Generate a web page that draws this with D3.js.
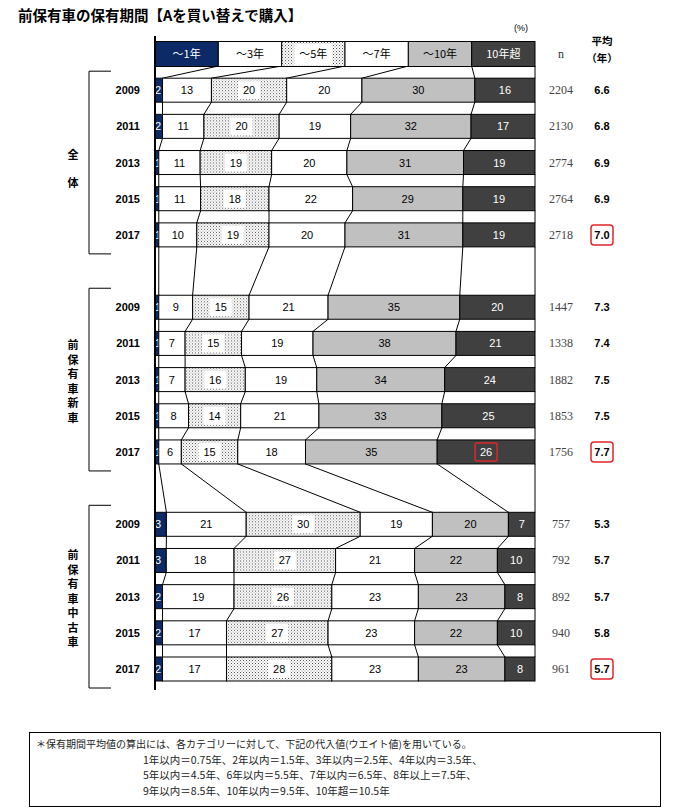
<!DOCTYPE html>
<html>
<head>
<meta charset="utf-8">
<script src="https://cdn.jsdelivr.net/npm/d3@7"></script>
<style>
  body { margin: 0; background: #fff; }
  svg text { font-family: "Liberation Sans", Arial, sans-serif; }
</style>
</head>
<body>
<div id="app"></div>
<script>
const categories = ['～1年', '～3年', '～5年', '～7年', '～10年', '10年超'];
const years = ['2009', '2011', '2013', '2015', '2017'];
const groupNames = ['全体', '前保有車新車', '前保有車中古車'];

const allValues = [
  [2, 13, 20, 20, 30, 16],
  [2, 11, 20, 19, 32, 17],
  [1, 11, 19, 20, 31, 19],
  [1, 11, 18, 22, 29, 19],
  [1, 10, 19, 20, 31, 19],
];
const newValues = [
  [1, 9, 15, 21, 35, 20],
  [1, 7, 15, 19, 38, 21],
  [1, 7, 16, 19, 34, 24],
  [1, 8, 14, 21, 33, 25],
  [1, 6, 15, 18, 35, 26],
];
const usedValues = [
  [3, 21, 30, 19, 20, 7],
  [3, 18, 27, 21, 22, 10],
  [2, 19, 26, 23, 23, 8],
  [2, 17, 27, 23, 22, 10],
  [2, 17, 28, 23, 23, 8],
];
const allN = [2204, 2130, 2774, 2764, 2718];
const newN = [1447, 1338, 1882, 1853, 1756];
const usedN = [757, 792, 892, 940, 961];
const allAvg = ['6.6', '6.8', '6.9', '6.9', '7.0'];
const newAvg = ['7.3', '7.4', '7.5', '7.5', '7.7'];
const usedAvg = ['5.3', '5.7', '5.7', '5.8', '5.7'];

const footnote = [
  '＊保有期間平均値の算出には、各カテゴリーに対して、下記の代入値(ウエイト値)を用いている。',
  '1年以内＝0.75年、2年以内＝1.5年、3年以内＝2.5年、4年以内＝3.5年、',
  '5年以内＝4.5年、6年以内＝5.5年、7年以内＝6.5年、8年以上＝7.5年、',
  '9年以内＝8.5年、10年以内＝9.5年、10年超＝10.5年',
];

const fills = ['#0c2a66', '#ffffff', 'url(#dots)', '#ffffff', '#c0c0c0', '#404040'];
const textFills = ['#fff', '#000', '#000', '#000', '#000', '#fff'];

const groups = [
  { name: groupNames[0], values: allValues, n: allN, avg: allAvg, start: 1 },
  { name: groupNames[1], values: newValues, n: newN, avg: newAvg, start: 7 },
  { name: groupNames[2], values: usedValues, n: usedN, avg: usedAvg, start: 13 },
];

const width = 683;
const height = 811;
const barH = 24;

const svg = d3.select('#app').append('svg')
  .attr('width', width)
  .attr('height', height);

const defs = svg.append('defs');
const pat = defs.append('pattern')
  .attr('id', 'dots')
  .attr('patternUnits', 'userSpaceOnUse')
  .attr('width', 3).attr('height', 3);
pat.append('rect').attr('width', 3).attr('height', 3).attr('fill', '#fff');
pat.append('rect').attr('width', 1).attr('height', 1).attr('fill', '#555');
pat.append('rect').attr('x', 1.5).attr('y', 1.5).attr('width', 1).attr('height', 1).attr('fill', '#888');

const x = d3.scaleLinear().domain([0, 100]).range([155, 535]);
const y = d3.scaleLinear().domain([0, 17]).range([54, 669]);

// rows: header + 15 data rows, each with cumulative boundaries
const headerBounds = d3.range(7).map(k => k * 100 / 6);
const rows = [];
groups.forEach(g => {
  g.values.forEach((v, i) => {
    const total = d3.sum(v);
    const cum = [0, ...d3.cumsum(v).map(c => c / total * 100)];
    rows.push({ group: g, year: years[i], values: v, bounds: cum, slot: g.start + i, n: g.n[i], avg: g.avg[i], last: i === 4 });
  });
});

// title
svg.append('text')
  .attr('x', 18).attr('y', 21)
  .style('font-family', '"Noto Sans CJK JP", sans-serif')
  .style('font-size', '14.5px').style('font-weight', 'bold')
  .text('前保有車の保有期間【Aを買い替えで購入】');

svg.append('text')
  .attr('x', 521).attr('y', 31)
  .attr('text-anchor', 'middle')
  .style('font-size', '9px')
  .text('(%)');

// connectors
const chain = [{ bounds: headerBounds, slot: 0 }, ...rows];
const links = [];
for (let i = 1; i < chain.length; i++) {
  const a = chain[i - 1], b = chain[i];
  headerBounds.forEach((_, k) => links.push({ x1: x(a.bounds[k]), y1: y(a.slot) + barH / 2, x2: x(b.bounds[k]), y2: y(b.slot) - barH / 2 }));
}
svg.append('g').selectAll('line').data(links).join('line')
  .attr('x1', d => d.x1).attr('y1', d => d.y1)
  .attr('x2', d => d.x2).attr('y2', d => d.y2)
  .attr('stroke', '#000').attr('stroke-width', 1);

// header legend boxes
const header = svg.append('g');
categories.forEach((c, k) => {
  const x0 = x(headerBounds[k]), x1 = x(headerBounds[k + 1]);
  header.append('rect')
    .attr('x', x0).attr('y', y(0) - barH / 2 - 0.5)
    .attr('width', x1 - x0).attr('height', barH + 1)
    .attr('fill', fills[k]).attr('stroke', '#000');
  if (k === 2) {
    header.append('rect')
      .attr('x', (x0 + x1) / 2 - 19).attr('y', y(0) - barH / 2 + 2)
      .attr('width', 38).attr('height', barH - 3)
      .attr('fill', '#fff');
  }
  header.append('text')
    .attr('x', (x0 + x1) / 2).attr('y', y(0) + 4)
    .attr('text-anchor', 'middle')
    .attr('fill', textFills[k])
    .style('font-family', '"Noto Sans CJK JP", sans-serif')
    .style('font-size', '11px')
    .text(c);
});

svg.append('text')
  .attr('x', 561).attr('y', 58).attr('text-anchor', 'middle')
  .style('font-family', '"Liberation Serif", serif').style('font-size', '12px').attr('fill', '#333')
  .text('n');
svg.append('text')
  .attr('x', 602).attr('y', 45).attr('text-anchor', 'middle')
  .style('font-family', '"Noto Sans CJK JP", sans-serif').style('font-size', '10.5px').style('font-weight', 'bold')
  .text('平均');
svg.append('text')
  .attr('x', 602).attr('y', 62).attr('text-anchor', 'middle')
  .style('font-family', '"Noto Sans CJK JP", sans-serif').style('font-size', '10.5px').style('font-weight', 'bold')
  .text('（年）');

// bars
const rowG = svg.append('g').selectAll('g').data(rows).join('g')
  .attr('transform', d => `translate(0, ${y(d.slot)})`);

rowG.each(function (d) {
  const g = d3.select(this);
  d.values.forEach((v, k) => {
    const x0 = x(d.bounds[k]), x1 = x(d.bounds[k + 1]);
    g.append('rect')
      .attr('x', x0).attr('y', -barH / 2)
      .attr('width', x1 - x0).attr('height', barH)
      .attr('fill', fills[k]).attr('stroke', '#000').attr('stroke-width', 1);
    const cx = (x0 + x1) / 2;
    if (k === 2) {
      g.append('rect')
        .attr('x', cx - 11).attr('y', -barH / 2 + 3)
        .attr('width', 22).attr('height', barH - 6)
        .attr('fill', '#fff');
    }
    g.append('text')
      .attr('x', k === 0 ? x0 + 3 : cx).attr('y', 4)
      .attr('text-anchor', 'middle')
      .attr('fill', textFills[k])
      .style('font-size', '11px')
      .text(v);
  });
  g.append('text')
    .attr('x', 140).attr('y', 4).attr('text-anchor', 'end')
    .style('font-size', '11px').style('font-weight', 'bold')
    .text(d.year);
  g.append('text')
    .attr('x', 561).attr('y', 4).attr('text-anchor', 'middle')
    .style('font-family', '"Liberation Serif", serif').style('font-size', '12px').attr('fill', '#444')
    .text(d.n);
  g.append('text')
    .attr('x', 602).attr('y', 4).attr('text-anchor', 'middle')
    .style('font-size', '11px').style('font-weight', 'bold')
    .text(d.avg);
  if (d.last) {
    g.append('rect')
      .attr('x', 591).attr('y', -10).attr('width', 22).attr('height', 20).attr('rx', 3)
      .attr('fill', 'none').attr('stroke', '#e0262b').attr('stroke-width', 1.5);
  }
  if (d.last && d.group.name === '前保有車新車') {
    const cx = (x(d.bounds[5]) + x(d.bounds[6])) / 2;
    g.append('rect')
      .attr('x', cx - 11).attr('y', -9).attr('width', 22).attr('height', 18).attr('rx', 2)
      .attr('fill', 'none').attr('stroke', '#e0262b').attr('stroke-width', 1.5);
  }
});

// left axis line
svg.append('line')
  .attr('x1', 155).attr('x2', 155)
  .attr('y1', 36).attr('y2', 690)
  .attr('stroke', '#000').attr('stroke-width', 2);

// group brackets and vertical labels
groups.forEach(g => {
  const top = y(g.start) - 19, bottom = y(g.start + 4) + 19;
  svg.append('path')
    .attr('d', `M111,${top}H89V${bottom}H111`)
    .attr('fill', 'none').attr('stroke', '#000').attr('stroke-width', 1);
  const chars = g.name.split('');
  const step = chars.length === 2 ? 28 : 14.5;
  const mid = (top + bottom) / 2 + (chars.length === 2 ? 6 : 2);
  chars.forEach((c, i) => {
    svg.append('text')
      .attr('x', 73).attr('y', mid + (i - (chars.length - 1) / 2) * step + 4)
      .attr('text-anchor', 'middle')
      .style('font-family', '"Noto Sans CJK JP", sans-serif')
      .style('font-size', '11px').style('font-weight', 'bold')
      .text(c);
  });
});

// footnote box
svg.append('rect')
  .attr('x', 29.5).attr('y', 732.5).attr('width', 631).attr('height', 74)
  .attr('fill', 'none').attr('stroke', '#000');
footnote.forEach((t, i) => {
  svg.append('text')
    .attr('x', i === 0 ? 36 : 143).attr('y', 748 + i * 15.5)
    .style('font-family', '"Noto Sans CJK JP", sans-serif')
    .style('font-size', i === 0 ? '10px' : '10.5px').attr('fill', '#222')
    .text(t);
});
</script>
</body>
</html>
